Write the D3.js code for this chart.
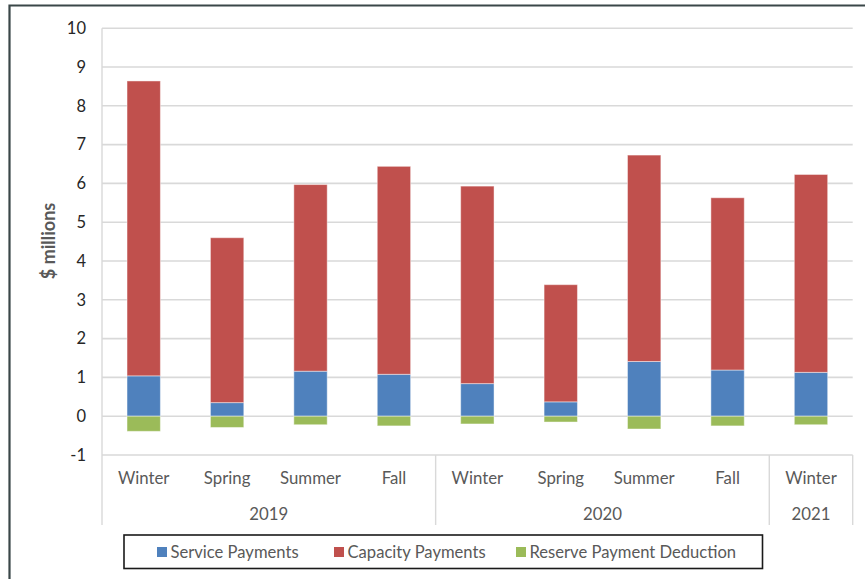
<!DOCTYPE html>
<html>
<head>
<meta charset="utf-8">
<script src="https://cdn.jsdelivr.net/npm/d3@7"></script>
<style>
  html, body { margin: 0; padding: 0; background: #fff; }
  svg { display: block; font-family: Lato, "Open Sans", sans-serif; }
</style>
</head>
<body>
<svg id="chart" width="865" height="579"></svg>
<script>
// Seasonal payments, $ millions
const seasons = ["Winter", "Spring", "Summer", "Fall", "Winter", "Spring", "Summer", "Fall", "Winter"];
const years = ["2019", "2019", "2019", "2019", "2020", "2020", "2020", "2020", "2021"];
const yearGroups = ["2019", "2020", "2021"];
const servicePayments = [1.04, 0.35, 1.16, 1.08, 0.84, 0.37, 1.41, 1.19, 1.13];
const capacityPayments = [7.60, 4.25, 4.81, 5.36, 5.09, 3.02, 5.32, 4.44, 5.10];
const reserveDeduction = [-0.39, -0.29, -0.22, -0.25, -0.20, -0.15, -0.33, -0.25, -0.22];
const yTicks = [-1, 0, 1, 2, 3, 4, 5, 6, 7, 8, 9, 10];
const seriesNames = ["Service Payments", "Capacity Payments", "Reserve Payment Deduction"];
const seriesColors = ["#4f81bd", "#c0504d", "#9bbb59"];

const svg = d3.select("#chart");
const plotLeft = 102, plotRight = 852.7, plotTop = 28.2, plotBottom = 455;

const idx = d3.range(seasons.length);
const x = d3.scaleBand().domain(idx).range([plotLeft, plotRight]).paddingInner(0.6).paddingOuter(0.3);
const y = d3.scaleLinear().domain([-1, 10]).range([plotBottom, plotTop]);

// outer frame (left and top edges)
svg.append("path")
  .attr("d", `M9.5,579 V5.5 H865`)
  .attr("fill", "none").attr("stroke", "#3a4748").attr("stroke-width", 2.2);

// gridlines
svg.append("g").selectAll("line").data(yTicks).join("line")
  .attr("x1", plotLeft).attr("x2", plotRight)
  .attr("y1", d => y(d)).attr("y2", d => y(d))
  .attr("stroke", "#d9d9d9").attr("stroke-width", 1.6);

// value axis line
svg.append("line").attr("x1", plotLeft).attr("x2", plotLeft).attr("y1", plotTop).attr("y2", plotBottom)
  .attr("stroke", "#d9d9d9").attr("stroke-width", 1.4);

// value axis labels
const yAxis = d3.axisLeft(y).tickValues(yTicks).tickSize(0).tickPadding(16).tickFormat(d => String(d));
const ya = svg.append("g").attr("transform", `translate(${plotLeft},0)`).call(yAxis);
ya.select(".domain").remove();
ya.selectAll("text").attr("font-size", 16.5).attr("fill", "#262626")
  .attr("font-family", "Lato, sans-serif");

svg.append("text")
  .attr("transform", "translate(55,241) rotate(-90)")
  .attr("text-anchor", "middle")
  .attr("font-size", 18).attr("font-weight", "bold").attr("fill", "#595959")
  .text("$ millions");

// stacked bars
const stackRows = idx.map(i => ({ i, s: servicePayments[i], c: capacityPayments[i], r: reserveDeduction[i] }));
const barG = svg.append("g");
barG.selectAll("rect.svc").data(stackRows).join("rect").attr("class", "svc")
  .attr("x", d => x(d.i)).attr("width", x.bandwidth())
  .attr("y", d => y(d.s)).attr("height", d => y(0) - y(d.s))
  .attr("fill", seriesColors[0]);
barG.selectAll("rect.cap").data(stackRows).join("rect").attr("class", "cap")
  .attr("x", d => x(d.i)).attr("width", x.bandwidth())
  .attr("y", d => y(d.s + d.c)).attr("height", d => y(d.s) - y(d.s + d.c))
  .attr("fill", seriesColors[1]);
barG.selectAll("rect.res").data(stackRows).join("rect").attr("class", "res")
  .attr("x", d => x(d.i)).attr("width", x.bandwidth())
  .attr("y", y(0)).attr("height", d => y(d.r) - y(0))
  .attr("fill", seriesColors[2]);
barG.selectAll("rect")
  .attr("stroke", "#ffffff").attr("stroke-opacity", 0.45).attr("stroke-width", 1);

// category axis: season labels, year labels and group separators
const step = x.step();
const catG = svg.append("g");
catG.selectAll("text.season").data(idx).join("text").attr("class", "season")
  .attr("x", i => x(i) + x.bandwidth() / 2).attr("y", 484)
  .attr("text-anchor", "middle").attr("font-size", 16.8).attr("fill", "#595959")
  .text(i => seasons[i]);

const groups = yearGroups.map(g => {
  const members = idx.filter(i => years[i] === g);
  return { g, start: plotLeft + d3.min(members) * step, end: plotLeft + (d3.max(members) + 1) * step };
});
catG.selectAll("text.year").data(groups).join("text").attr("class", "year")
  .attr("x", d => (d.start + d.end) / 2).attr("y", 520)
  .attr("text-anchor", "middle").attr("font-size", 16.8).attr("fill", "#595959")
  .text(d => d.g);

const seps = [groups[0].start, ...groups.map(d => d.end)];
catG.selectAll("line").data(seps).join("line")
  .attr("x1", d => d).attr("x2", d => d).attr("y1", plotBottom).attr("y2", 525)
  .attr("stroke", "#d9d9d9").attr("stroke-width", 1.4);

// legend
const lg = svg.append("g");
lg.append("rect").attr("x", 124).attr("y", 535).attr("width", 638.5).attr("height", 33.5)
  .attr("fill", "#fff").attr("stroke", "#1a1a1a").attr("stroke-width", 1.6);
const legendX = [157, 334, 516];
const items = lg.selectAll("g.item").data(seriesNames).join("g").attr("class", "item")
  .attr("transform", (d, i) => `translate(${legendX[i]},552)`);
items.append("rect").attr("x", 0).attr("y", -5).attr("width", 10).attr("height", 10)
  .attr("fill", (d, i) => seriesColors[i]);
items.append("text").attr("x", 13.5).attr("y", 5.8)
  .attr("font-size", 16.6).attr("fill", "#595959").text(d => d);
</script>
</body>
</html>
